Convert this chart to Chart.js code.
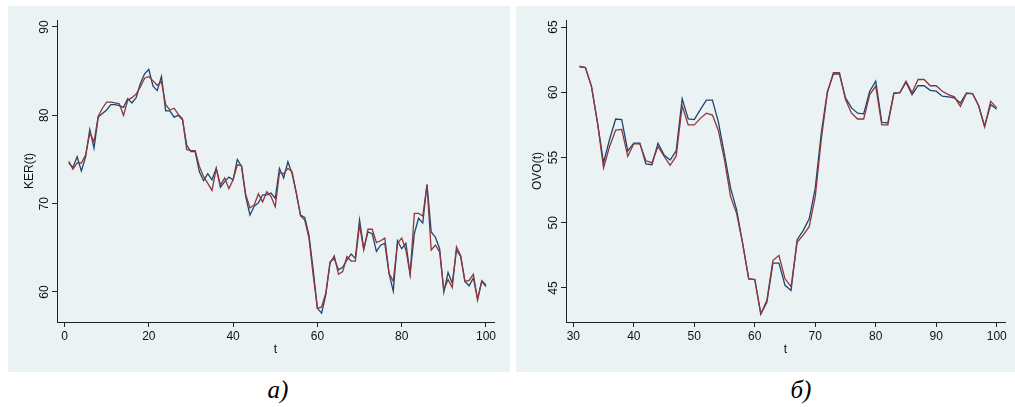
<!DOCTYPE html>
<html><head><meta charset="utf-8">
<script src="https://cdn.jsdelivr.net/npm/chart.js@4.4.1/dist/chart.umd.min.js"></script>
<style>
body{margin:0;background:#fff;width:1015px;height:407px;position:relative;overflow:hidden}
.panel{position:absolute;top:6px;height:366px;background:#eaf2f3}
#p1{left:8px;width:502px}
#p2{left:516px;width:499px}
canvas{display:block}
.cap{position:absolute;font-family:"Liberation Serif","Times New Roman",serif;font-style:italic;font-size:25px;color:#000;line-height:28px;top:376px;transform:translateX(-50%);white-space:nowrap}
</style></head>
<body>
<div class="panel" id="p1"><canvas id="c1" width="502" height="366"></canvas></div>
<div class="panel" id="p2"><canvas id="c2" width="499" height="366"></canvas></div>
<div class="cap" style="left:278px">а)</div>
<div class="cap" style="left:801px">б)</div>
<script>
// ---- Data: panel а) KER(t), t = 1..100
const kerT = Array.from({length: 100}, (_, i) => i + 1);
const kerBlue = [74.6,74.1,75.3,73.7,75.3,78.4,76.3,79.8,80.2,80.6,
  81.2,81.2,81.1,80.9,81.9,81.4,82.0,83.6,84.7,85.2,
  83.3,82.8,84.4,80.5,80.5,79.8,80.0,79.5,76.6,75.9,
  75.9,73.6,72.6,73.4,72.7,74.0,71.85,72.5,73.0,72.7,
  75.0,74.2,70.8,68.7,69.7,70.1,71.0,71.0,71.2,70.6,
  74.0,72.9,74.75,73.4,71.2,68.7,68.45,66.45,62.5,58.15,
  57.6,59.7,63.4,63.8,62.5,62.8,63.6,64.3,63.8,68.15,
  64.9,66.8,66.6,64.6,65.3,65.5,62.1,60.1,65.8,64.9,
  65.5,62.0,66.6,68.35,67.8,72.2,66.8,66.2,64.9,60.0,
  62.2,61.0,64.75,64.0,61.2,60.7,61.6,59.2,61.2,60.6];
const kerRed = [74.8,73.9,74.6,74.6,75.5,78.0,77.0,79.9,80.8,81.5,
  81.5,81.4,81.3,80.0,81.7,82.0,82.4,83.2,84.2,84.4,
  83.9,83.4,83.8,81.2,80.6,80.8,80.1,79.6,76.1,76.0,
  76.0,74.2,73.05,72.3,71.5,74.0,72.1,72.9,71.7,72.7,
  74.4,74.3,71.0,69.5,69.85,71.1,70.2,71.35,70.8,69.65,
  73.5,73.4,74.0,73.6,71.2,68.6,68.15,66.1,61.9,58.15,
  58.3,59.9,63.25,64.1,62.0,62.3,64.0,63.5,63.5,67.6,
  64.75,67.1,67.1,65.6,65.8,66.1,62.1,61.2,65.5,66.1,
  64.75,62.0,68.9,68.9,68.6,72.1,64.75,65.3,64.55,60.2,
  61.4,60.5,65.1,64.1,61.2,61.3,62.0,59.1,61.3,60.8];
const kerXTicks = [0,20,40,60,80,100];
const kerYTicks = [60,70,80,90];

// ---- Data: panel б) OVO(t), t = 31..100
const ovoT = Array.from({length: 70}, (_, i) => i + 31);
const ovoBlue = [61.95,61.9,60.45,57.65,54.6,56.4,57.95,57.9,55.5,56.1,
  56.1,54.5,54.45,56.1,55.2,54.8,55.5,59.5,57.95,57.9,
  58.67,59.4,59.4,57.7,55.2,52.65,50.98,48.4,45.7,45.65,
  43.0,43.9,46.9,46.9,45.2,44.8,48.7,49.4,50.3,52.65,
  56.9,60.05,61.4,61.4,59.57,58.8,58.4,58.35,60.08,60.85,
  57.7,57.65,59.95,59.97,60.77,59.82,60.5,60.5,60.15,60.08,
  59.7,59.65,59.57,59.18,59.95,59.9,58.98,57.4,59.05,58.72];
const ovoRed = [62.0,61.9,60.45,57.65,54.2,55.85,57.1,57.15,55.1,56.05,
  56.05,54.75,54.6,55.85,55.1,54.4,55.1,58.95,57.5,57.5,
  58.0,58.4,58.25,57.05,54.8,52.0,50.7,48.4,45.7,45.65,
  43.0,44.05,47.1,47.5,45.7,45.1,48.5,49.05,49.7,52.0,
  56.4,59.95,61.5,61.5,59.44,58.4,57.95,57.95,59.82,60.46,
  57.5,57.5,59.9,59.97,60.85,59.97,60.98,60.98,60.5,60.5,
  60.08,59.82,59.65,58.92,59.9,59.9,58.98,57.35,59.3,58.8];
const ovoXTicks = [30,40,50,60,70,80,90,100];
const ovoYTicks = [45,50,55,60,65];

const FONT = '"Liberation Sans", Arial, sans-serif';
const BLUE = '#1a476f', RED = '#90353b', AX = '#222';

const rotYTicks = {
  id: 'rotYTicks',
  afterDraw(chart) {
    const s = chart.scales.y, ctx = chart.ctx;
    ctx.save();
    ctx.fillStyle = '#111';
    ctx.font = '12px ' + FONT;
    ctx.textAlign = 'center';
    ctx.textBaseline = 'alphabetic';
    s.ticks.forEach(t => {
      const y = s.getPixelForValue(t.value);
      ctx.save();
      ctx.translate(chart.chartArea.left - 9, y);
      ctx.rotate(-Math.PI / 2);
      ctx.fillText(String(t.label), 0, 0);
      ctx.restore();
    });
    ctx.restore();
  }
};

function makeChart(id, ts, blue, red, cfg) {
  const pts = arr => ts.map((t, i) => ({x: t, y: arr[i]}));
  return new Chart(document.getElementById(id), {
    type: 'line',
    data: {datasets: [
      {data: pts(red), borderColor: RED, borderWidth: 1.3, pointRadius: 0, tension: 0, fill: false},
      {data: pts(blue), borderColor: BLUE, borderWidth: 1.3, pointRadius: 0, tension: 0, fill: false}
    ]},
    options: {
      responsive: false, animation: false, devicePixelRatio: 1,
      layout: {padding: {left: 0, top: 14, right: cfg.padRight, bottom: 0}},
      plugins: {legend: {display: false}, tooltip: {enabled: false}},
      scales: {
        x: {
          type: 'linear', min: cfg.xMin, max: cfg.xMax,
          afterBuildTicks: s => { s.ticks = cfg.xTicks.map(v => ({value: v})); },
          afterFit: s => { s.height = 50; },
          grid: {drawOnChartArea: false, drawTicks: true, tickLength: 5, tickColor: AX, color: AX},
          border: {display: true, color: AX, width: 1},
          ticks: {color: '#111', font: {size: 12, family: FONT}, padding: 2, maxRotation: 0, autoSkip: false},
          title: {display: true, text: 't', color: '#111', font: {size: 12, family: FONT}, padding: {top: 0, bottom: 15}}
        },
        y: {
          type: 'linear', min: cfg.yMin, max: cfg.yMax,
          afterBuildTicks: s => { s.ticks = cfg.yTicks.map(v => ({value: v})); },
          afterFit: s => { s.width = cfg.yWidth; },
          grid: {drawOnChartArea: false, drawTicks: true, tickLength: 5, tickColor: AX, color: AX},
          border: {display: true, color: AX, width: 1},
          ticks: {display: false},
          title: {display: true, text: cfg.yTitle, color: '#111', font: {size: 12, family: FONT}, padding: {top: 14, bottom: 0}}
        }
      }
    },
    plugins: [rotYTicks]
  });
}

makeChart('c1', kerT, kerBlue, kerRed, {
  xMin: -1.78, xMax: 101.9, yMin: 56.6, yMax: 90.79,
  xTicks: kerXTicks, yTicks: kerYTicks, yTitle: 'KER(t)', yWidth: 49, padRight: 16
});
makeChart('c2', ovoT, ovoBlue, ovoRed, {
  xMin: 28.79, xMax: 101.37, yMin: 42.39, yMax: 65.54,
  xTicks: ovoXTicks, yTicks: ovoYTicks, yTitle: 'OVO(t)', yWidth: 50, padRight: 10
});
</script>
</body></html>
